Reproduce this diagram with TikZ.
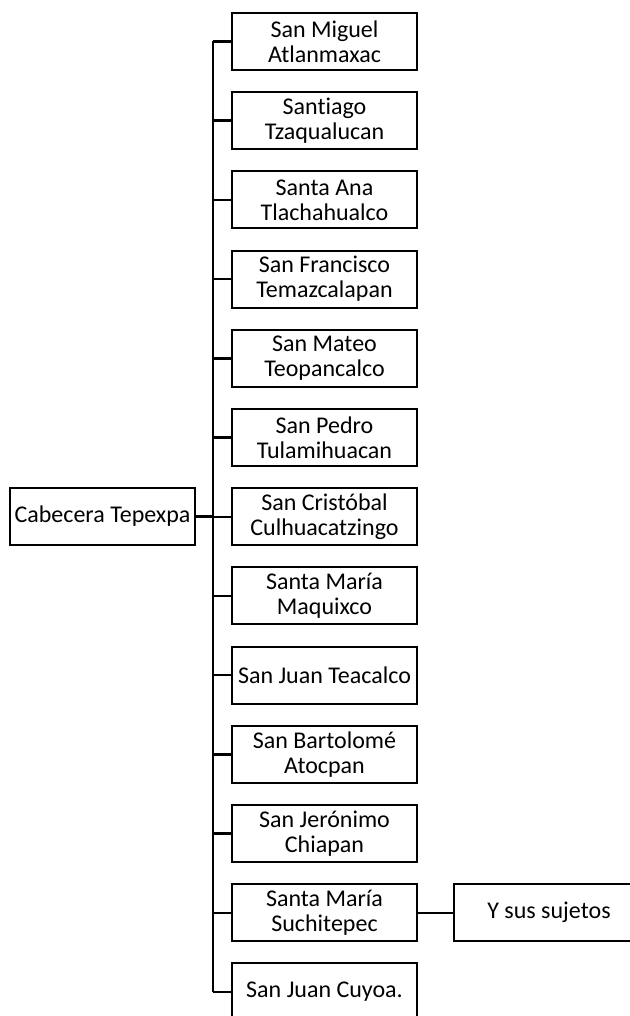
\documentclass[tikz,border=0pt]{standalone}
\usepackage{fontspec}
\setmainfont{Carlito}[Ligatures=NoCommon]
\usetikzlibrary{positioning,calc}

\tikzset{
  pueblo/.style={draw,line width=2pt,minimum width=185pt,minimum height=57pt,align=center,inner sep=1pt},
  rama/.style={line width=2.4pt}
}

\begin{document}
\begin{tikzpicture}[x=1pt,y=-1pt,font=\fontsize{24}{25}\selectfont]
\useasboundingbox (0,0) rectangle (629,1016);
% cabecera and sujetos
\node[pueblo] (cab) at (102.5,516.5) {Cabecera Tepexpa};
\foreach \i/\txt in {1/{San Miguel\\Atlanmaxac},2/{Santiago\\Tzaqualucan},3/{Santa Ana\\Tlachahualco},
  4/{San Francisco\\Temazcalapan},5/{San Mateo\\Teopancalco},6/{San Pedro\\Tulamihuacan},
  7/{San Cristóbal\\Culhuacatzingo},8/{Santa María\\Maquixco},9/{San Juan Teacalco},
  10/{San Bartolomé\\Atocpan},11/{San Jerónimo\\Chiapan},12/{Santa María\\Suchitepec},13/{San Juan Cuyoa.}}{
  \node[pueblo] (v\i) at (324.5,{41.5+79.2*(\i-1)}) {\txt};
}
\node[pueblo,minimum width=190pt,right=35pt of v12] (ys) {Y sus sujetos};
% lines
\coordinate (j) at (213,0);
\draw[rama] (j |- v1.west) -- (j |- v13.west);
\foreach \i in {1,...,13}{\draw[rama] (j |- v\i.west) -- (v\i.west);}
\draw[rama] (cab.east) -- (j |- cab.east);
\draw[rama] (v12.east) -- (ys.west);
\end{tikzpicture}
\end{document}
